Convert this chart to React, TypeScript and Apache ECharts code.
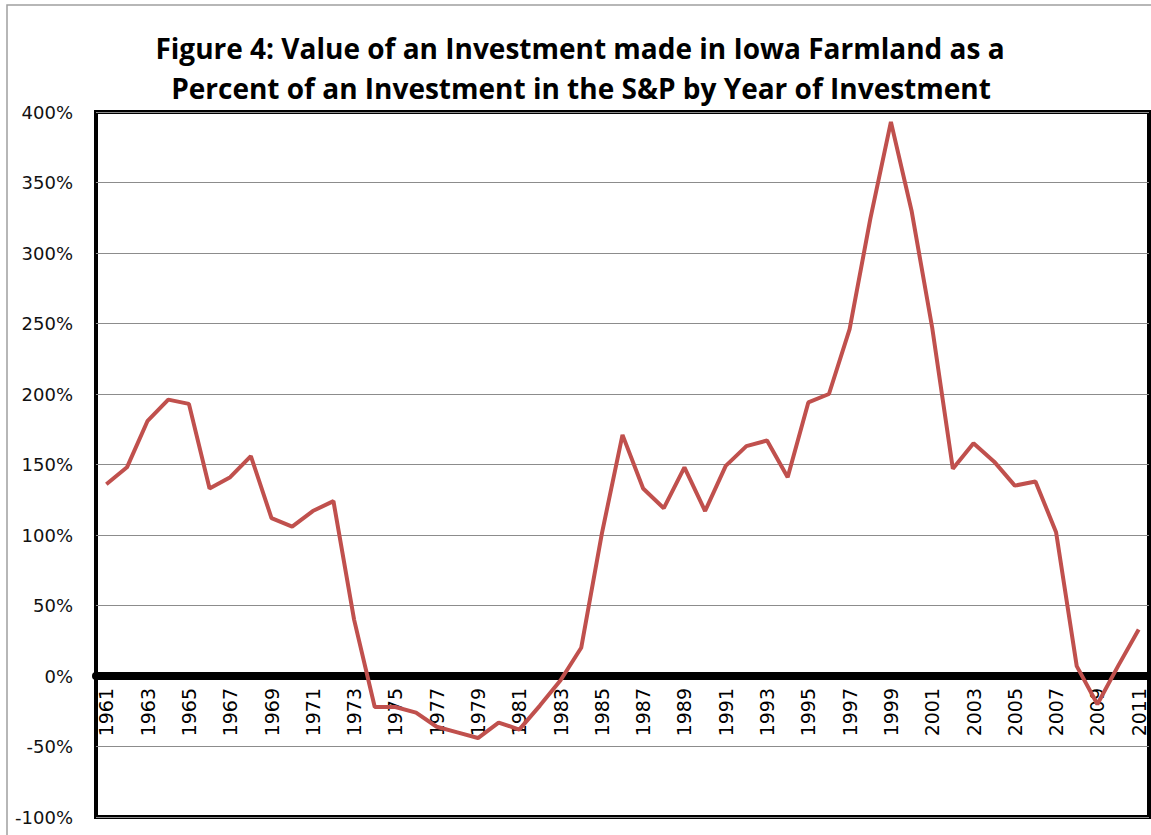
import React, { useEffect, useRef } from "react";
import * as echarts from "echarts";

const years: string[] = [
  "1961", "1962", "1963", "1964", "1965", "1966", "1967", "1968", "1969", "1970",
  "1971", "1972", "1973", "1974", "1975", "1976", "1977", "1978", "1979", "1980",
  "1981", "1982", "1983", "1984", "1985", "1986", "1987", "1988", "1989", "1990",
  "1991", "1992", "1993", "1994", "1995", "1996", "1997", "1998", "1999", "2000",
  "2001", "2002", "2003", "2004", "2005", "2006", "2007", "2008", "2009", "2010",
  "2011",
];

const farmlandVsSP: number[] = [
  136, 148, 181, 196, 193, 133, 141, 156, 112, 106,
  117, 124, 40, -22, -22, -26, -36, -40, -44, -33,
  -38, -21, -3, 20, 101, 171, 133, 119, 148, 117,
  149, 163, 167, 141, 194, 200, 246, 324, 393, 330,
  247, 147, 165, 152, 135, 138, 102, 7, -20, 7,
  33,
];

const titleLines: string[] = [
  "Figure 4: Value of an Investment made in Iowa Farmland as a",
  "Percent of an Investment in the S&P by Year of Investment",
];

const yMin = -100;
const yMax = 400;
const yStep = 50;

const W = 1151;
const H = 835;
const gridTop = 112;
const gridBottom = 18;

export default function App() {
  const ref = useRef<HTMLDivElement>(null);

  useEffect(() => {
    if (!ref.current) return;
    const chart = echarts.init(ref.current, null, { renderer: "svg" });
    const titleFont = "'Open Sans', sans-serif";
    const plotH = H - gridTop - gridBottom;
    const zeroOffset = -(plotH * (0 - yMin)) / (yMax - yMin);
    chart.setOption({
      animation: false,
      backgroundColor: "#ffffff",
      graphic: [
        {
          type: "rect",
          silent: true,
          shape: { x: 7, y: 5, width: 1200, height: 900 },
          style: { fill: "none", stroke: "#a0a0a0", lineWidth: 1.5 },
          z: -1,
        },
        {
          type: "text",
          x: 580,
          y: 48,
          style: {
            text: titleLines[0],
            font: `bold 28px ${titleFont}`,
            fill: "#000",
            textAlign: "center",
            textVerticalAlign: "middle",
          },
        },
        {
          type: "text",
          x: 581,
          y: 88,
          style: {
            text: titleLines[1],
            font: `bold 28px ${titleFont}`,
            fill: "#000",
            textAlign: "center",
            textVerticalAlign: "middle",
          },
        },
      ],
      grid: {
        left: 96,
        right: 2,
        top: gridTop,
        bottom: gridBottom,
        show: true,
        borderColor: "#000",
        borderWidth: 4,
        backgroundColor: "transparent",
        outerBoundsMode: "none",
        containLabel: false,
      },
      xAxis: {
        type: "category",
        data: years,
        boundaryGap: true,
        position: "bottom",
        offset: zeroOffset,
        axisLine: { show: true, onZero: false, lineStyle: { color: "#000", width: 8 } },
        axisTick: { show: false },
        axisLabel: {
          rotate: 90,
          interval: 1,
          margin: 12,
          color: "#000",
          fontSize: 19,
          fontFamily: "'DejaVu Sans', sans-serif",
        },
        splitLine: { show: false },
      },
      yAxis: {
        type: "value",
        min: yMin,
        max: yMax,
        interval: yStep,
        axisLine: { show: false },
        axisTick: { show: false },
        axisLabel: {
          margin: 23,
          color: "#111",
          fontSize: 18,
          fontFamily: "'DejaVu Sans', sans-serif",
          formatter: (v: number) => `${v}%`,
        },
        splitLine: { show: true, lineStyle: { color: "#8c8c8c", width: 1 } },
      },
      series: [
        {
          type: "line",
          data: farmlandVsSP,
          symbol: "none",
          lineStyle: { color: "#C0504D", width: 4 },
          z: 3,
        },
      ],
    });
    return () => chart.dispose();
  }, []);

  return (
    <div
      ref={ref}
      style={{ position: "fixed", left: 0, top: 0, width: W, height: H }}
    />
  );
}
